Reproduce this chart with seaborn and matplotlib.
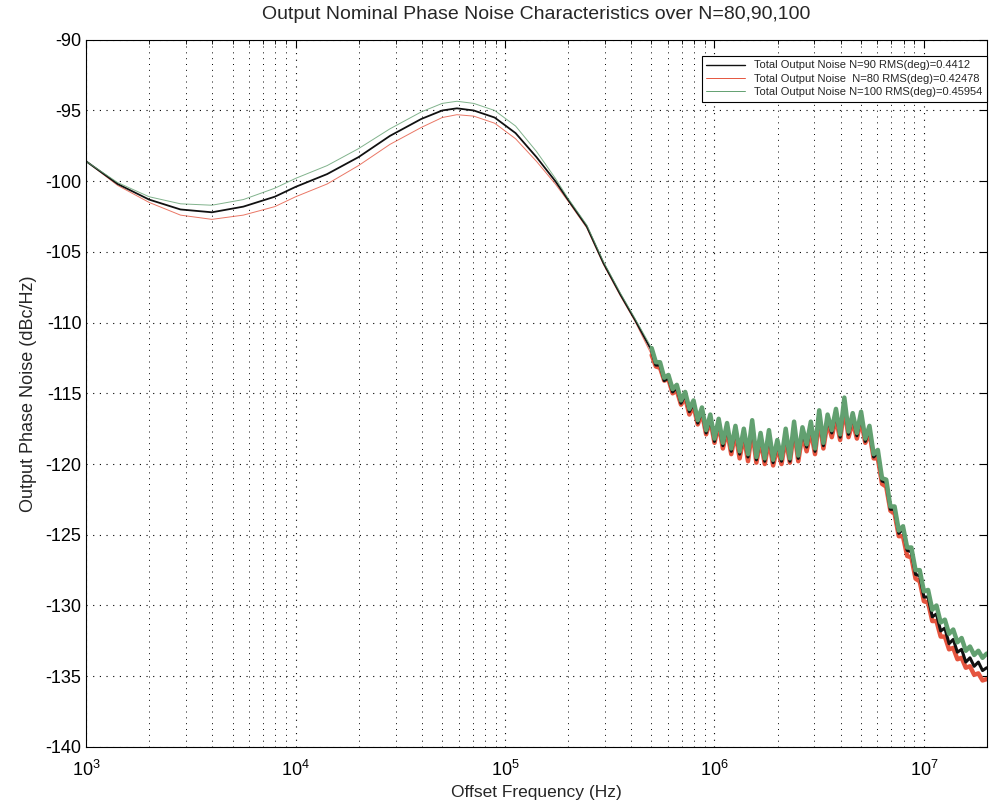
import numpy as np
import pandas as pd
import matplotlib
matplotlib.use("Agg")
import matplotlib.pyplot as plt
import seaborn as sns
from matplotlib.ticker import LogLocator, NullFormatter, MultipleLocator
from matplotlib.lines import Line2D

# ---------------- data ----------------
# smooth part: log10 of offset frequency (Hz)
smooth_log10_freq = [3.00, 3.15, 3.30, 3.45, 3.60, 3.75, 3.90, 4.00, 4.15, 4.30,
                     4.45, 4.60, 4.70, 4.77, 4.85, 4.95, 5.05, 5.15, 5.24, 5.30,
                     5.39, 5.47, 5.55, 5.62, 5.70]
smooth_n90 = [-98.6, -100.2, -101.3, -102.0, -102.2, -101.8, -101.1, -100.4, -99.5, -98.3,
              -96.8, -95.6, -95.0, -94.85, -95.0, -95.5, -96.6, -98.3, -100.0, -101.3,
              -103.2, -105.8, -108.0, -109.8, -112.0]
smooth_n80 = [-98.6, -100.3, -101.5, -102.4, -102.7, -102.4, -101.8, -101.1, -100.2, -98.9,
              -97.4, -96.2, -95.5, -95.3, -95.4, -95.9, -97.0, -98.6, -100.2, -101.4,
              -103.3, -105.9, -108.1, -109.9, -112.3]
smooth_n100 = [-98.6, -100.1, -101.1, -101.6, -101.7, -101.3, -100.5, -99.8, -98.9, -97.7,
               -96.3, -95.1, -94.5, -94.35, -94.5, -95.0, -96.1, -97.9, -99.8, -101.2,
               -103.1, -105.7, -107.9, -109.7, -111.8]

# noisy part (log10 of offset frequency, Hz)
noise_log10_freq = [5.70, 5.72, 5.74, 5.76, 5.78, 5.80, 5.82, 5.84, 5.86, 5.88,
                    5.90, 5.92, 5.94, 5.96, 5.98, 6.00, 6.02, 6.04, 6.06, 6.08,
                    6.10, 6.12, 6.14, 6.16, 6.18, 6.20, 6.22, 6.24, 6.26, 6.28,
                    6.30, 6.32, 6.34, 6.36, 6.38, 6.40, 6.42, 6.44, 6.46, 6.48,
                    6.50, 6.52, 6.54, 6.56, 6.58, 6.60, 6.62, 6.64, 6.66, 6.68,
                    6.70, 6.72, 6.74, 6.76, 6.78, 6.80, 6.82, 6.84, 6.86, 6.88,
                    6.90, 6.92, 6.94, 6.96, 6.98, 7.00, 7.02, 7.04, 7.06, 7.08,
                    7.10, 7.12, 7.14, 7.16, 7.18, 7.20, 7.22, 7.24, 7.26, 7.28,
                    7.30]
noise_n90 = [-112.0, -113.0, -113.0, -114.1, -113.9, -114.9, -114.6, -115.7, -115.1, -116.3,
             -115.7, -117.1, -116.2, -117.8, -116.7, -118.4, -117.0, -118.7, -117.3, -119.1,
             -117.5, -119.3, -117.7, -119.5, -117.1, -119.7, -118.0, -119.8, -117.8, -119.9,
             -118.5, -119.8, -117.7, -119.8, -117.2, -119.6, -117.6, -118.8, -117.2, -119.1,
             -116.4, -118.7, -116.7, -117.8, -116.3, -118.1, -115.5, -117.9, -116.6, -118.0,
             -116.5, -118.4, -117.5, -119.5, -119.2, -121.2, -121.3, -123.2, -123.2, -124.9,
             -124.6, -126.1, -126.2, -127.8, -127.9, -129.4, -129.4, -130.8, -130.6, -131.8,
             -131.6, -132.7, -132.4, -133.3, -133.1, -134.0, -133.7, -134.3, -134.0, -134.6,
             -134.4]
noise_n80 = [-112.3, -113.1, -113.2, -114.1, -114.0, -115.0, -114.8, -115.8, -115.3, -116.5,
             -115.9, -117.2, -116.4, -117.9, -116.9, -118.5, -117.2, -118.9, -117.6, -119.3,
             -117.8, -119.6, -118.0, -119.8, -117.6, -119.9, -118.3, -120.0, -118.3, -120.1,
             -118.8, -120.0, -118.2, -119.9, -117.6, -119.8, -117.9, -119.1, -117.6, -119.3,
             -116.8, -118.9, -117.0, -118.1, -116.7, -118.3, -116.0, -118.1, -117.0, -118.2,
             -116.9, -118.5, -117.8, -119.6, -119.6, -121.4, -121.6, -123.3, -123.5, -125.1,
             -125.1, -126.5, -126.6, -128.1, -128.3, -129.7, -129.8, -131.1, -131.1, -132.2,
             -132.2, -133.1, -133.0, -133.8, -133.7, -134.4, -134.3, -134.9, -134.8, -135.3,
             -135.2]
noise_n100 = [-111.8, -112.8, -112.8, -113.9, -113.7, -114.7, -114.4, -115.5, -114.9, -116.1,
              -115.5, -116.9, -116.0, -117.6, -116.5, -118.2, -116.8, -118.5, -117.1, -118.9,
              -117.3, -119.1, -117.5, -119.3, -116.9, -119.5, -117.8, -119.6, -117.6, -119.7,
              -118.3, -119.6, -117.5, -119.6, -117.0, -119.4, -117.4, -118.6, -117.0, -118.9,
              -116.2, -118.5, -116.5, -117.6, -116.1, -117.9, -115.3, -117.7, -116.4, -117.8,
              -116.3, -118.2, -117.3, -119.3, -119.0, -121.0, -121.1, -123.0, -123.0, -124.7,
              -124.4, -125.9, -125.9, -127.5, -127.5, -129.0, -128.9, -130.3, -130.0, -131.2,
              -131.0, -132.0, -131.7, -132.6, -132.3, -133.2, -132.9, -133.5, -133.2, -133.7,
              -133.4]

labels = {
    "n90": "Total Output Noise N=90 RMS(deg)=0.4412",
    "n80": "Total Output Noise  N=80 RMS(deg)=0.42478",
    "n100": "Total Output Noise N=100 RMS(deg)=0.45954",
}
colors = {"n90": "#111111", "n80": "#e5553f", "n100": "#62a070"}

# ---------------- figure ----------------
sns.set_style("white")
plt.rcParams["font.family"] = ["Liberation Sans", "DejaVu Sans"]
plt.rcParams["mathtext.fontset"] = "custom"
plt.rcParams["mathtext.rm"] = "Liberation Sans"
plt.rcParams["mathtext.it"] = "Liberation Sans"
plt.rcParams["axes.unicode_minus"] = False

fig = plt.figure(figsize=(10.03, 8.11), dpi=100)
ax = fig.add_axes([0.086, 0.079, 0.898, 0.872])

def frame(logf, vals, key):
    return pd.DataFrame({"f": np.power(10.0, np.array(logf)), "v": vals, "s": key})

series = [("n80", smooth_n80, noise_n80, 3.2),
          ("n90", smooth_n90, noise_n90, 2.2),
          ("n100", smooth_n100, noise_n100, 3.2)]

for key, sm, nz, lw_n in series:
    lw_s = 1.3 if key == "n90" else 0.7
    sns.lineplot(data=frame(smooth_log10_freq, sm, key), x="f", y="v",
                 color=colors[key], lw=lw_s, sort=False, estimator=None, ax=ax,
                 legend=False, alpha=1.0 if key == "n90" else 0.8)
    sns.lineplot(data=frame(noise_log10_freq, nz, key), x="f", y="v",
                 color=colors[key], lw=lw_n, sort=False, estimator=None, ax=ax,
                 legend=False)

ax.set_xscale("log")
ax.set_xlim(1e3, 2e7)
ax.set_ylim(-140, -90)
ax.yaxis.set_major_locator(MultipleLocator(5))
ax.xaxis.set_major_locator(LogLocator(base=10, numticks=10))
ax.xaxis.set_minor_locator(LogLocator(base=10, subs=np.arange(2, 10), numticks=100))
ax.xaxis.set_minor_formatter(NullFormatter())

ax.grid(True, which="major", axis="both", color="black", linestyle=(0, (1, 5)), linewidth=0.8)
ax.grid(True, which="minor", axis="x", color="black", linestyle=(0, (1, 5)), linewidth=0.7)

for s in ax.spines.values():
    s.set_color("black")
    s.set_linewidth(0.8)
ax.tick_params(which="both", direction="in", top=True, right=True, colors="black",
               labelsize=13)
ax.tick_params(axis="x", which="major", pad=9)
ax.tick_params(which="major", length=6)
ax.tick_params(which="minor", length=3)

ax.set_title("Output Nominal Phase Noise Characteristics over N=80,90,100",
             fontsize=14, pad=15)
ax.set_xlabel("Offset Frequency (Hz)", fontsize=12.5, labelpad=4)
ax.set_ylabel("Output Phase Noise (dBc/Hz)", fontsize=13, labelpad=6)

handles = [Line2D([], [], color=colors["n90"], lw=1.0),
           Line2D([], [], color=colors["n80"], lw=0.7),
           Line2D([], [], color=colors["n100"], lw=0.7)]
leg = ax.legend(handles, [labels["n90"], labels["n80"], labels["n100"]],
                loc="upper right", bbox_to_anchor=(1.0, 0.977), fontsize=8,
                frameon=True, fancybox=False, framealpha=1, edgecolor="black",
                borderpad=0.4, labelspacing=0.3, handlelength=3.5, handletextpad=0.8,
                borderaxespad=0.0)
leg.get_frame().set_linewidth(0.8)

fig.savefig("out.png", dpi=100)
